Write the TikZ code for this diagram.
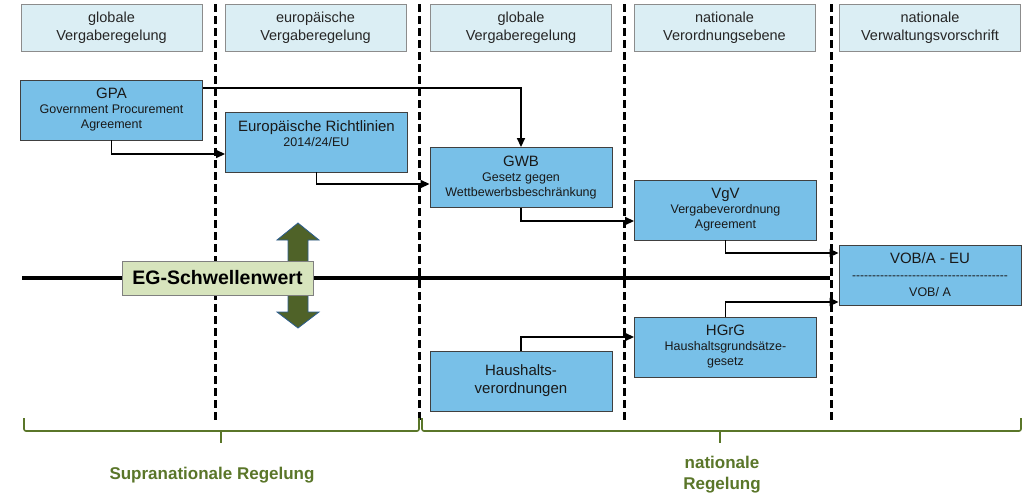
\documentclass[tikz,border=0pt]{standalone}
\usepackage{fontspec}
\setmainfont{Liberation Sans}
\usetikzlibrary{arrows.meta}
\definecolor{kopfblau}{HTML}{DBEEF4}
\definecolor{boxblau}{HTML}{78C0E8}
\definecolor{schwellgruen}{HTML}{D7E4BD}
\definecolor{oliv}{HTML}{4F6228}
\definecolor{klammergruen}{HTML}{5A7629}
\definecolor{pfeilrand}{HTML}{2C5D8F}
\newcommand\titelgr{\fontsize{15}{17}\selectfont}
\begin{document}
\begin{tikzpicture}[x=1pt, y=-1pt,
  kopf/.style={rectangle, draw=black!45, fill=kopfblau, line width=0.9pt,
    minimum width=181pt, minimum height=47pt, inner sep=0pt, align=center,
    text=black!85, font=\fontsize{14.5}{18}\selectfont},
  regel/.style={rectangle, draw=black!75, fill=boxblau, line width=0.9pt,
    minimum width=182pt, minimum height=60pt, inner sep=0pt, align=center,
    text=black!90, font=\fontsize{12.5}{15}\selectfont},
  pfeil/.style={line width=1.6pt, -{Triangle[length=9pt,width=8pt]}},
  trenn/.style={line width=3pt, dash pattern=on 8pt off 4pt},
  klammer/.style={draw=klammergruen, line width=1.6pt, rounded corners=2pt},
  bereich/.style={text=klammergruen, align=center,
    font=\bfseries\fontsize{17}{21}\selectfont},
  doppelpfeil/.style={fill=oliv, draw=pfeilrand, line width=0.8pt}
]
\useasboundingbox (0,0) rectangle (1023,496);

% Spaltentrenner
\foreach \sx in {215,419,624,831}
  \draw[trenn] (\sx,4) -- (\sx,420);

% Kopfzeile
\node[kopf] (k1) at (111.5,27.5) {globale\\Vergaberegelung};
\node[kopf] (k2) at (315.5,27.5) {europäische\\Vergaberegelung};
\node[kopf] (k3) at (521,27.5) {globale\\Vergaberegelung};
\node[kopf] (k4) at (724.5,27.5) {nationale\\Verordnungsebene};
\node[kopf] (k5) at (930,27.5) {nationale\\Verwaltungsvorschrift};

% Schwellenwert
\coordinate (links) at (22,278);
\coordinate (rechts) at (830,278);
\draw[line width=3.2pt] (links) -- (rechts);
\draw[doppelpfeil] (298,223) -- (319,240) -- (308,240) -- (308,262)
  -- (288,262) -- (288,240) -- (277,240) -- cycle;
\draw[doppelpfeil] (288,294) -- (308,294) -- (308,312) -- (319,312)
  -- (298,328) -- (277,312) -- (288,312) -- cycle;
\node[rectangle, draw=black!50, fill=schwellgruen, line width=0.9pt,
  minimum width=191pt, minimum height=34pt, inner sep=0pt,
  font=\bfseries\fontsize{19.5}{22}\selectfont] (schwelle) at (217.5,278) {EG-Schwellenwert};

% Regelwerke
\node[regel] (gpa) at (111.5,110) {{\titelgr GPA}\\Government Procurement\\Agreement};
\node[regel, text depth=16pt] (eu) at (316.5,142) {{\titelgr Europäische Richtlinien}\\2014/24/EU};
\node[regel] (gwb) at (521,177.5) {{\titelgr GWB}\\Gesetz gegen\\Wettbewerbsbeschränkung};
\node[regel] (vgv) at (725.5,210) {{\titelgr VgV}\\Vergabeverordnung\\Agreement};
\node[regel] (vob) at (930,275) {{\titelgr VOB/A - EU}\\[1pt]
  \hbox to 158pt{\fontsize{12}{12}\selectfont\cleaders\hbox{-}\hfill}\\[2pt]VOB/ A};
\node[regel] (hgrg) at (725.5,347) {{\titelgr HGrG}\\Haushaltsgrundsätze-\\gesetz};
\node[regel, font=\fontsize{15}{18}\selectfont] (hvo) at (521,381) {Haushalts-\\verordnungen};

% Verbindungen
\draw[pfeil] ([yshift=22pt]gpa.east) -| (gwb.north);
\draw[pfeil] (gpa.south) |- ([yshift=-12pt]eu.west);
\draw[pfeil] (eu.south) |- ([yshift=-6.5pt]gwb.west);
\draw[pfeil] (gwb.south) |- ([yshift=-11pt]vgv.west);
\draw[pfeil] (vgv.south) |- ([yshift=22pt]vob.west);
\draw[pfeil] (hgrg.north) |- ([yshift=-27pt]vob.west);
\draw[pfeil] (hvo.north) |- ([yshift=10pt]hgrg.west);

% Klammern
\draw[klammer] (24,418) -- (24,431) -- (419,431) -- (419,418);
\draw[klammer] (221,431) -- (221,443);
\draw[klammer] (422,418) -- (422,431) -- (1021,431) -- (1021,418);
\draw[klammer] (720,431) -- (720,443);
\node[bereich] (supra) at (212,475) {Supranationale Regelung};
\node[bereich] (national) at (722,475) {nationale\\Regelung};
\end{tikzpicture}
\end{document}
